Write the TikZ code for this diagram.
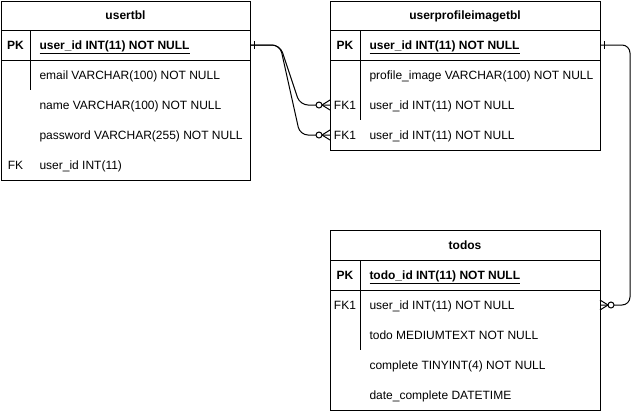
\documentclass[tikz,border=0pt]{standalone}
\usepackage{fontspec}
\setmainfont{Liberation Sans}
\usetikzlibrary{calc}
\begin{document}
\begin{tikzpicture}[x=0.75pt,y=-0.75pt,line width=0.75pt,
        every node/.style={inner sep=0pt,text height=6.5pt,text depth=0pt,font=\fontsize{9}{11}\selectfont},
        headlbl/.style={anchor=center,font=\fontsize{9}{11}\selectfont\bfseries},
        keylbl/.style={anchor=center},
        pklbl/.style={anchor=center,font=\fontsize{9}{11}\selectfont\bfseries},
        fieldlbl/.style={anchor=west},
        pkfield/.style={anchor=west,font=\fontsize{9}{11}\selectfont\bfseries},
        relline/.style={rounded corners=6pt}]
            \useasboundingbox (0,0) rectangle (640,411);
            % usertbl
            \draw (1,1) rectangle (250,180);
            \draw (1,30) -- (250,30);
            \draw (1,60) -- (250,60);
            \draw (30,30) -- (30,90);
            \node[headlbl] (usr-head) at (125.5,15) {usertbl};
            \node[pklbl] (usr-pk-key) at (15.5,45) {PK};
            \node[pkfield] (usr-pk-txt) at (39,45) {\underline{user\_id INT(11) NOT NULL}};
            \node[fieldlbl] (usr-email) at (39,75) {email VARCHAR(100) NOT NULL};
            \node[fieldlbl] (usr-name) at (39,105) {name VARCHAR(100) NOT NULL};
            \node[fieldlbl] (usr-pass) at (39,135) {password VARCHAR(255) NOT NULL};
            \node[keylbl] (usr-fk-key) at (15.5,165) {FK};
            \node[fieldlbl] (usr-fk-txt) at (39,165) {user\_id INT(11)};
            \coordinate (usr-pk) at (250,45);
            % userprofileimagetbl
            \draw (330,1) rectangle (600,150);
            \draw (330,30) -- (600,30);
            \draw (330,60) -- (600,60);
            \draw (360,30) -- (360,120);
            \node[headlbl] (upi-head) at (465,15) {userprofileimagetbl};
            \node[pklbl] (upi-pk-key) at (345,45) {PK};
            \node[pkfield] (upi-pk-txt) at (369,45) {\underline{user\_id INT(11) NOT NULL}};
            \node[fieldlbl] (upi-img) at (369,75) {profile\_image VARCHAR(100) NOT NULL};
            \node[keylbl] (upi-fk1-key) at (345,105) {FK1};
            \node[fieldlbl] (upi-fk1-txt) at (369,105) {user\_id INT(11) NOT NULL};
            \node[keylbl] (upi-fk2-key) at (345,135) {FK1};
            \node[fieldlbl] (upi-fk2-txt) at (369,135) {user\_id INT(11) NOT NULL};
            \coordinate (upi-pk) at (600,45);
            \coordinate (upi-fk1) at (330,105);
            \coordinate (upi-fk2) at (330,135);
            % todos
            \draw (330,230) rectangle (600,410);
            \draw (330,260) -- (600,260);
            \draw (330,290) -- (600,290);
            \draw (360,260) -- (360,350);
            \node[headlbl] (todo-head) at (465,245) {todos};
            \node[pklbl] (todo-pk-key) at (345,275) {PK};
            \node[pkfield] (todo-pk-txt) at (369,275) {\underline{todo\_id INT(11) NOT NULL}};
            \node[keylbl] (todo-fk1-key) at (345,305) {FK1};
            \node[fieldlbl] (todo-fk1-txt) at (369,305) {user\_id INT(11) NOT NULL};
            \node[fieldlbl] (todo-text) at (369,335) {todo MEDIUMTEXT NOT NULL};
            \node[fieldlbl] (todo-done) at (369,365) {complete TINYINT(4) NOT NULL};
            \node[fieldlbl] (todo-date) at (369,395) {date\_complete DATETIME};
            \coordinate (todo-fk1) at (600,305);
            % relations
            \draw[relline] (usr-pk) -- ++(30,0) -- ($(upi-fk1)+(-30,0)$) -- (upi-fk1);
            \draw[relline] (usr-pk) -- ++(30,0) -- ($(upi-fk2)+(-30,0)$) -- (upi-fk2);
            \draw[relline] (upi-pk) -- ++(30,0) |- (todo-fk1);
            % one
            \draw (usr-pk) ++(4,-4) -- ++(0,8);
            \draw (upi-pk) ++(4,-4) -- ++(0,8);
            % zero to many
            \draw (upi-fk1) ++(-8,0) -- ++(8,-5) ++(-8,5) -- ++(8,5);
            \draw[fill=white] (upi-fk1) ++(-11,0) circle (3);
            \draw (upi-fk2) ++(-8,0) -- ++(8,-5) ++(-8,5) -- ++(8,5);
            \draw[fill=white] (upi-fk2) ++(-11,0) circle (3);
            \draw (todo-fk1) ++(8,0) -- ++(-8,-5) ++(8,5) -- ++(-8,5);
            \draw[fill=white] (todo-fk1) ++(11,0) circle (3);
        \end{tikzpicture}
\end{document}
